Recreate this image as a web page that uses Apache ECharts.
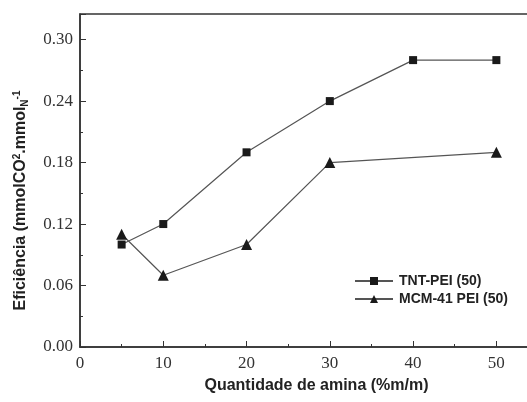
<!DOCTYPE html>
<html>
<head>
    <meta charset="utf-8">
    <title>Eficiência</title>
    <script src="https://cdn.jsdelivr.net/npm/echarts@6/dist/echarts.min.js"></script>
<style type="text/css">
body{
    margin: 0;
    background: #fff;
}
#chart{
    width: 527px;
    height: 402px;
}
</style>
</head>
<body>
    <div id="chart"></div>
    <script>
        // values
        var amina = [5, 10, 20, 30, 40, 50];
        var tntPei = [0.10, 0.12, 0.19, 0.24, 0.28, 0.28];
        var mcmX = [5, 10, 20, 30, 50];
        var mcmPei = [0.11, 0.07, 0.10, 0.18, 0.19];
        var seriesNames = ['TNT-PEI (50)', 'MCM-41 PEI (50)'];

        var pairs = (xs, ys) => xs.map((x, i) => [x, ys[i]]);

        var chart = echarts.init(document.getElementById('chart'));

        var tickFont = {
            fontFamily: 'Liberation Serif',
            fontSize: 17,
            color: '#333'
        };
        var boldSans = {
            fontFamily: 'Liberation Sans',
            fontWeight: 'bold',
            color: '#222'
        };

        var option = {
            animation: false,
            backgroundColor: '#fff',
            // the frame runs past the right edge of the picture
            grid: {
                left: 80,
                top: 14,
                bottom: 55,
                width: 458,
                outerBoundsMode: 'none',
                show: true,
                borderColor: '#333',
                borderWidth: 1.5
            },
            legend: {
                left: 349,
                top: 269,
                orient: 'vertical',
                itemWidth: 38,
                itemHeight: 10,
                itemGap: 4,
                data: seriesNames,
                textStyle: Object.assign({fontSize: 14, padding: [0, 0, 0, 1]}, boldSans)
            },
            xAxis: {
                type: 'value',
                min: 0,
                max: 55,
                interval: 10,
                name: 'Quantidade de amina (%m/m)',
                nameLocation: 'middle',
                nameGap: 31,
                nameTextStyle: Object.assign({fontSize: 16, padding: [0, 0, 0, 15]}, boldSans),
                axisLine: {lineStyle: {color: '#333', width: 1.5}},
                axisTick: {inside: true, length: 6, lineStyle: {color: '#333'}},
                minorTick: {show: true, splitNumber: 2, length: 3, lineStyle: {color: '#333'}},
                splitLine: {show: false},
                axisLabel: Object.assign({margin: 8, showMaxLabel: false}, tickFont)
            },
            yAxis: {
                type: 'value',
                min: 0,
                max: 0.325,
                interval: 0.06,
                name: '{a|Eficiência (mmolCO}{sup|2}{a|.mmol}{sub|N}{sup|-1}',
                nameLocation: 'middle',
                nameGap: 50,
                nameTextStyle: {
                    padding: [0, 0, 0, -40],
                    rich: {
                        a: Object.assign({fontSize: 16}, boldSans),
                        sup: Object.assign({fontSize: 10, verticalAlign: 'top', lineHeight: 18}, boldSans),
                        sub: Object.assign({fontSize: 10, verticalAlign: 'bottom', lineHeight: 12}, boldSans)
                    }
                },
                axisLine: {show: true, lineStyle: {color: '#333', width: 1.5}},
                axisTick: {show: true, inside: true, length: 6, lineStyle: {color: '#333'}},
                minorTick: {show: true, splitNumber: 2, length: 3, lineStyle: {color: '#333'}},
                splitLine: {show: false},
                axisLabel: Object.assign({
                    margin: 7,
                    showMaxLabel: false,
                    formatter: v => v.toFixed(2)
                }, tickFont)
            },
            series: [
                {
                    name: seriesNames[0],
                    type: 'line',
                    data: pairs(amina, tntPei),
                    symbol: 'rect',
                    symbolSize: 8,
                    lineStyle: {color: '#555', width: 1.2},
                    itemStyle: {color: '#1a1a1a'}
                },
                {
                    name: seriesNames[1],
                    type: 'line',
                    data: pairs(mcmX, mcmPei),
                    symbol: 'triangle',
                    symbolSize: 11,
                    lineStyle: {color: '#555', width: 1.2},
                    itemStyle: {color: '#1a1a1a'}
                }
            ]
        };
        chart.setOption(option);
    </script>
</body>
</html>
